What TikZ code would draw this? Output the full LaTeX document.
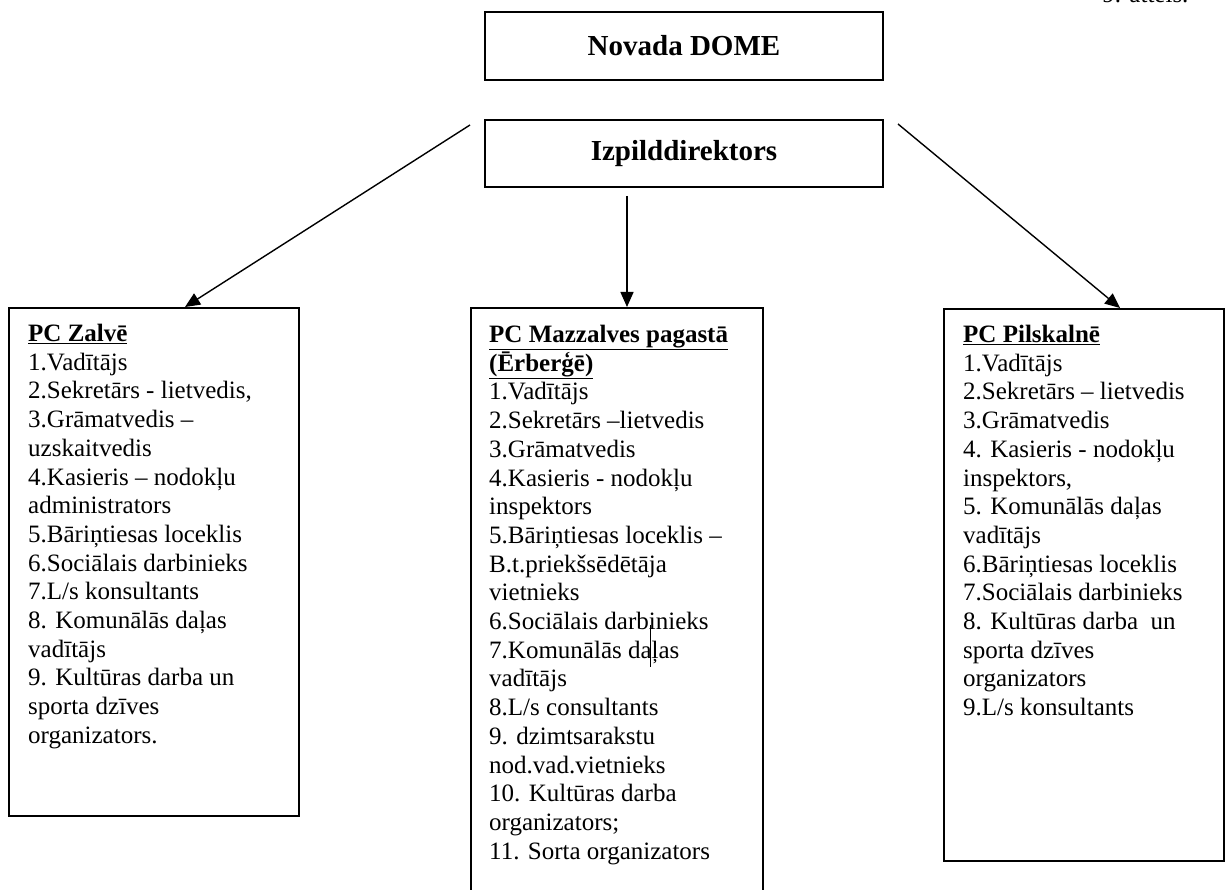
\documentclass[tikz,border=0pt]{standalone}
\usepackage{fontspec}
\setmainfont{Liberation Serif}
\usetikzlibrary{arrows.meta,positioning}

\begin{document}
\begin{tikzpicture}[x=1pt,y=-1pt,
  headbox/.style={draw,line width=1.6pt,minimum width=398pt,font=\bfseries\fontsize{29}{33}\selectfont},
  unitbox/.style={draw,line width=1.6pt,inner sep=0pt,anchor=north west},
  unitlist/.style={anchor=north west,inner sep=0pt,align=left,font=\fontsize{25}{28.7}\selectfont},
  feed/.style={line width=1.4pt,-{Triangle[length=15pt,width=13pt]}}]
\useasboundingbox (0,0) rectangle (1225,890);
\node (fig) [anchor=base east,font=\fontsize{25}{28}\selectfont] at (1192,3) {9. attēls.};
\node (dome) [headbox,minimum height=68pt] at (684,46) {Novada DOME};
\node (dir) [headbox,minimum height=67pt] at (684,153.5) {Izpilddirektors};
\coordinate (lfrom) at (470,125);
\coordinate (mfrom) at (627,196);
\coordinate (rfrom) at (898,124);
\node (zalve) [unitbox,minimum width=290pt,minimum height=508pt] at (8,307) {};
\node (mazz) [unitbox,minimum width=292pt,minimum height=620pt] at (470,307) {};
\node (pils) [unitbox,minimum width=280pt,minimum height=552pt] at (943,308) {};
\node (zalvelist) [unitlist] at ([xshift=20pt,yshift=-17pt]zalve.north west)
 {\textbf{\underline{PC Zalvē}}\\1.Vadītājs\\2.Sekretārs - lietvedis,\\3.Grāmatvedis –\\uzskaitvedis\\4.Kasieris – nodokļu\\administrators\\5.Bāriņtiesas loceklis\\6.Sociālais darbinieks\\7.L/s konsultants\\8. Komunālās daļas\\vadītājs\\9. Kultūras darba un\\sporta dzīves\\organizators.};
\node (mazzlist) [unitlist] at ([xshift=19pt,yshift=-18pt]mazz.north west)
 {\textbf{\underline{PC Mazzalves pagastā}}\\\textbf{\underline{(Ērberģē)}}\\1.Vadītājs\\2.Sekretārs –lietvedis\\3.Grāmatvedis\\4.Kasieris - nodokļu\\inspektors\\5.Bāriņtiesas loceklis –\\B.t.priekšsēdētāja\\vietnieks\\6.Sociālais darbinieks\\7.Komunālās daļas\\vadītājs\\8.L/s consultants\\9. dzimtsarakstu\\nod.vad.vietnieks\\10. Kultūras darba\\organizators;\\11. Sorta organizators};
\node (pilslist) [unitlist] at ([xshift=20pt,yshift=-17pt]pils.north west)
 {\textbf{\underline{PC Pilskalnē}}\\1.Vadītājs\\2.Sekretārs – lietvedis\\3.Grāmatvedis\\4. Kasieris - nodokļu\\inspektors,\\5. Komunālās daļas\\vadītājs\\6.Bāriņtiesas loceklis\\7.Sociālais darbinieks\\8. Kultūras darba\ \ un\\sporta dzīves\\organizators\\9.L/s konsultants};
\draw [line width=0.8pt] (650,625) -- (650,667);
\draw [feed] (lfrom) -- ([xshift=177pt]zalve.north west);
\draw [feed] (mfrom) -- ([xshift=157pt]mazz.north west);
\draw [feed] (rfrom) -- ([xshift=177pt]pils.north west);
\end{tikzpicture}
\end{document}
